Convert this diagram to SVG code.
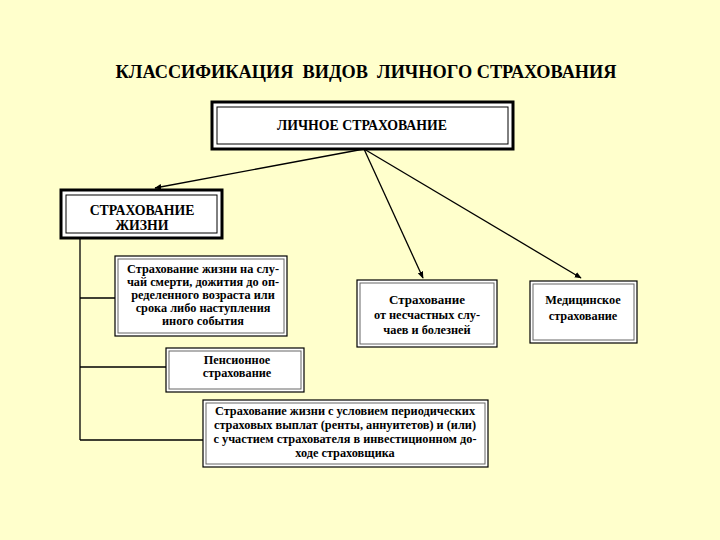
<svg xmlns="http://www.w3.org/2000/svg" width="720" height="540" viewBox="0 0 720 540">
<defs>
<marker id="ah" viewBox="0 0 10 10" refX="9" refY="5" markerWidth="7" markerHeight="7" orient="auto" markerUnits="userSpaceOnUse">
<path d="M0,1 L10,5 L0,9 Z" fill="#000"/>
</marker>
</defs>
<style>
text{font-family:'Liberation Serif','Times New Roman','DejaVu Serif',serif;font-weight:bold;fill:#000;text-anchor:middle}
.t{font-size:18.3px}
.c{font-size:13.8px}
.m{font-size:13px}
.s{font-size:12.3px}
.outer{fill:#fff;stroke:#000;stroke-width:3}
.inner{fill:none;stroke:#000;stroke-width:1}
.bo{fill:#fff;stroke:#000;stroke-width:1.2}
.bi{fill:none;stroke:#666;stroke-width:1}
.ln{stroke:#000;stroke-width:1.3;fill:none}
</style>
<rect width="720" height="540" fill="#FFFFCC"/>
<text class="t" x="366" y="78" xml:space="preserve">КЛАССИФИКАЦИЯ  ВИДОВ  ЛИЧНОГО СТРАХОВАНИЯ</text>

<g id="connectors">
<line class="ln" x1="364" y1="149" x2="155" y2="188" marker-end="url(#ah)"/>
<line class="ln" x1="364" y1="149" x2="423" y2="278" marker-end="url(#ah)"/>
<line class="ln" x1="364" y1="149" x2="581" y2="278" marker-end="url(#ah)"/>
<line class="ln" x1="80" y1="238" x2="80" y2="440"/>
<line class="ln" x1="80" y1="298" x2="115" y2="298"/>
<line class="ln" x1="80" y1="367" x2="166" y2="367"/>
<line class="ln" x1="80" y1="440" x2="203" y2="440"/>
</g>

<g id="personal">
<rect class="outer" x="212" y="102" width="301" height="47"/>
<rect class="inner" x="217" y="107" width="291" height="37"/>
<text class="c" x="362" y="130">ЛИЧНОЕ СТРАХОВАНИЕ</text>
</g>

<g id="life">
<rect class="outer" x="61" y="190" width="161" height="48"/>
<rect class="inner" x="66" y="195" width="151" height="38"/>
<text class="c" x="142" y="215">СТРАХОВАНИЕ</text>
<text class="c" x="142" y="230">ЖИЗНИ</text>
</g>

<g id="death">
<rect class="bo" x="115" y="256" width="172" height="80"/>
<rect class="bi" x="118" y="259" width="166" height="74"/>
<text class="s" x="203" y="273">Страхование жизни на слу-</text>
<text class="s" x="203" y="286">чай смерти, дожития до оп-</text>
<text class="s" x="203" y="299">ределенного возраста или</text>
<text class="s" x="203" y="312">срока либо наступления</text>
<text class="s" x="203" y="325">иного события</text>
</g>

<g id="pension">
<rect class="bo" x="166" y="348" width="138" height="44"/>
<rect class="bi" x="169" y="351" width="132" height="38"/>
<text class="s" x="237" y="364">Пенсионное</text>
<text class="s" x="237" y="377">страхование</text>
</g>

<g id="annuity">
<rect class="bo" x="203" y="400" width="285" height="67"/>
<rect class="bi" x="206" y="403" width="279" height="61"/>
<text class="s" x="345" y="415">Страхование жизни с условием периодических</text>
<text class="s" x="345" y="429">страховых выплат (ренты, аннуитетов) и (или)</text>
<text class="s" x="345" y="443">с участием страхователя в инвестиционном до-</text>
<text class="s" x="345" y="457">ходе страховщика</text>
</g>

<g id="accident">
<rect class="bo" x="357" y="280" width="140" height="67"/>
<rect class="bi" x="360" y="283" width="134" height="61"/>
<text class="m" x="427" y="304">Страхование</text>
<text class="s" x="427" y="319">от несчастных слу-</text>
<text class="s" x="427" y="334">чаев и болезней</text>
</g>

<g id="medical">
<rect class="bo" x="530" y="281" width="107" height="62"/>
<rect class="bi" x="533" y="284" width="101" height="56"/>
<text class="s" x="583" y="304">Медицинское</text>
<text class="s" x="583" y="320">страхование</text>
</g>
</svg>
